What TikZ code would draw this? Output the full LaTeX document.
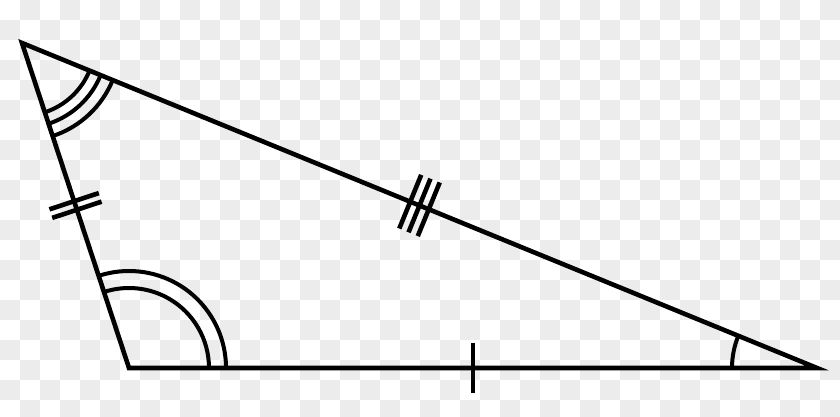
\documentclass[tikz,border=0pt]{standalone}
\usetikzlibrary{calc}
\definecolor{checker}{HTML}{ECECEC}
\tikzset{
  side/.style={line width=4.6pt, line join=miter},
  anglearc/.style={line width=4pt},
  tick/.style={line width=4.6pt, line cap=butt}
}
\begin{document}
\begin{tikzpicture}[x=1pt,y=1pt]
\useasboundingbox (0,0) rectangle (840,417);
% transparency checkerboard
\begin{scope}
\clip (0,0) rectangle (840,417);
\foreach \i in {0,...,41}{
  \pgfmathtruncatemacro\s{mod(\i+1,2)}
  \pgfmathtruncatemacro\t{\s+2}
  \foreach \j in {\s,\t,...,20}{
    \fill[checker] (20*\i,417-20*\j-20) rectangle (20*\i+20,417-20*\j);
  }
}
\end{scope}
% vertices
\coordinate (A) at (22,374);
\coordinate (B) at (129,49);
\coordinate (C) at (817,49);
% sides
\draw[side] (A) -- (B) -- (C) -- cycle;
% angle arcs
\foreach \r in {73,85,98}
  \draw[anglearc] ($(A)+(-71.78:\r)$) arc[start angle=-71.78,end angle=-22.23,radius=\r];
\foreach \r in {80,97}
  \draw[anglearc] ($(B)+(0:\r)$) arc[start angle=0,end angle=108.22,radius=\r];
\draw[anglearc] ($(C)+(157.77:85)$) arc[start angle=157.77,end angle=180,radius=85];
% tick on BC
\coordinate (mBC) at ($(B)!0.5!(C)$);
\draw[tick] ($(mBC)!25pt!90:(C)$) -- ($(mBC)!25pt!-90:(C)$);
% double tick on AB
\coordinate (mAB) at ($(A)!0.5!(B)$);
\foreach \d in {-4.5,4.5}{
  \coordinate (t) at ($(mAB)!\d pt!(A)$);
  \draw[tick] ($(t)!26pt!90:(A)$) -- ($(t)!26pt!-90:(A)$);
}
% triple tick on AC
\coordinate (mAC) at ($(A)!0.5!(C)$);
\foreach \d in {-10,0,10}{
  \coordinate (t) at ($(mAC)!\d pt!(A)$);
  \draw[tick] ($(t)!29pt!90:(A)$) -- ($(t)!29pt!-90:(A)$);
}
\end{tikzpicture}
\end{document}
